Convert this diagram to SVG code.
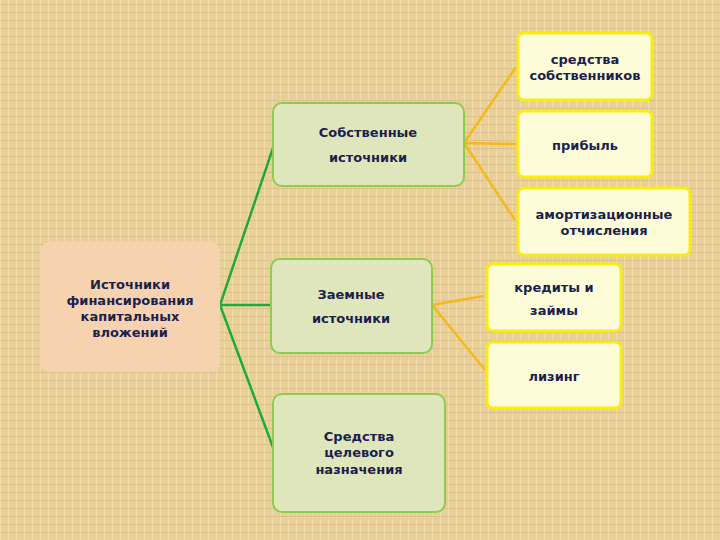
<svg xmlns="http://www.w3.org/2000/svg" width="720" height="540" viewBox="0 0 720 540">
<defs>
<pattern id="tex" width="8" height="8" patternUnits="userSpaceOnUse">
<rect width="8" height="8" fill="#e9d09a"/>
<rect x="0" y="0" width="1" height="8" fill="#f1dcaa"/>
<rect x="0" y="4" width="8" height="1" fill="#dcc08a"/>
</pattern>
<filter id="glow" x="-10%" y="-10%" width="120%" height="120%"><feGaussianBlur stdDeviation="1.5"/></filter>
</defs>
<style>
text{font-family:"DejaVu Sans","Noto Sans",sans-serif;font-weight:bold;font-size:13px;fill:#1a1f4e;text-anchor:middle}
.g{fill:#dfe6bb;stroke:#8fcb4f;stroke-width:2}
.y{fill:#fefcd8;stroke:#f7ee10;stroke-width:3}
.gl{stroke:#1faa3c;stroke-width:2.5;fill:none}
.yl{stroke:#f5b81c;stroke-width:2.5;fill:none}
</style>
<rect width="720" height="540" fill="url(#tex)"/>
<g id="connectors">
<path class="gl" d="M220,305 L273,148 M220,305 L270,305 M220,305 L274,450"/>
<path class="yl" d="M464,143 L516,67 M464,143 L516,144 M464,143 L515,220 M432,305 L484,296 M432,305 L485,370"/>
</g>
<g id="root"><rect x="40" y="242" width="180" height="130" rx="10" fill="#f7d2ae"/>
<text x="130" y="289">Источники</text><text x="130" y="305">финансирования</text><text x="130" y="321">капитальных</text><text x="130" y="337">вложений</text></g>
<g id="own"><rect class="g" x="273" y="103" width="191" height="83" rx="9"/><text x="368" y="137">Собственные</text><text x="368" y="162">источники</text></g>
<g id="loan"><rect class="g" x="271" y="259" width="161" height="94" rx="9"/><text x="351" y="299">Заемные</text><text x="351" y="323">источники</text></g>
<g id="target"><rect class="g" x="273" y="394" width="172" height="118" rx="9"/><text x="359" y="441">Средства</text><text x="359" y="457">целевого</text><text x="359" y="474">назначения</text></g>
<g id="owners"><rect class="y" x="518" y="33" width="134" height="67" rx="6"/><text x="585" y="64">средства</text><text x="585" y="80">собственников</text></g>
<g id="profit"><rect class="y" x="518" y="111" width="134" height="66" rx="6"/><text x="585" y="150">прибыль</text></g>
<g id="amort"><rect class="y" x="518" y="188" width="172" height="67" rx="6"/><text x="604" y="219">амортизационные</text><text x="604" y="235">отчисления</text></g>
<g id="credit"><rect class="y" x="487" y="264" width="134" height="67" rx="6"/><text x="554" y="292">кредиты и</text><text x="554" y="315">займы</text></g>
<g id="leasing"><rect class="y" x="487" y="342" width="134" height="66" rx="6"/><text x="554" y="381">лизинг</text></g>
</svg>
